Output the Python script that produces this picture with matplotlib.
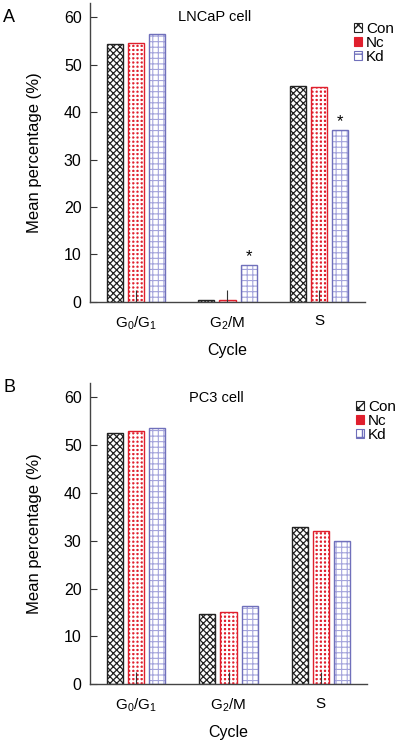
import matplotlib
matplotlib.use("Agg")
import matplotlib.pyplot as plt
import matplotlib.patches as mp
import numpy as np

plt.rcParams['font.family'] = ['Liberation Sans', 'DejaVu Sans']
plt.rcParams['mathtext.default'] = 'regular'

categories = [r'G$_0$/G$_1$', r'G$_2$/M', 'S']
groups = ['Con', 'Nc', 'Kd']
lncap_con = [54.4, 0.4, 45.5]
lncap_nc = [54.6, 0.3, 45.3]
lncap_kd = [56.5, 7.7, 36.3]
pc3_con = [52.5, 14.7, 32.8]
pc3_nc = [53.0, 15.1, 32.0]
pc3_kd = [53.6, 16.4, 30.0]
lncap_sig = [False, True, True]
pc3_sig = [False, False, False]

styles = {
    'Con': dict(face='white', hatchc='#222222', edge='#222222', hatch='xxxxx', hlw=0.9),
    'Nc': dict(face='#e01f2d', hatchc='white', edge='#e01f2d', hatch='++++', hlw=1.4),
    'Kd': dict(face='white', hatchc='#a4a4dc', edge='#7070bb', hatch='+++', hlw=0.8),
}

fig = plt.figure(figsize=(4, 7.4), dpi=100)
axA = fig.add_axes([0.225, 0.592, 0.6875, 0.404])
axB = fig.add_axes([0.225, 0.0753, 0.6925, 0.4071])

width = 0.175
offs = [-0.23, 0.0, 0.23]


def draw(ax, vals, sig, title, legpos):
    x = np.arange(len(categories))
    handles = []
    for g, v, o in zip(groups, vals, offs):
        st = styles[g]
        with plt.rc_context({'hatch.linewidth': st['hlw']}):
            bars = ax.bar(x + o, v, width, color=st['face'], edgecolor=st['hatchc'],
                          hatch=st['hatch'], linewidth=0)
            for b in bars:
                try:
                    b.set_hatch_linewidth(st['hlw'])
                except Exception:
                    pass
        ax.bar(x + o, v, width, fill=False, edgecolor=st['edge'], linewidth=1.0)
        with plt.rc_context({'hatch.linewidth': st['hlw']}):
            h = mp.Rectangle((0, 0), 1, 1, facecolor=st['face'], edgecolor=st['edge'],
                             hatch=st['hatch'][:2], linewidth=0.8)
        handles.append(h)
    kd = vals[2]
    for i, s in enumerate(sig):
        if s:
            ax.text(x[i] + offs[2], kd[i] + 0.2, '*', ha='center', va='bottom', fontsize=12)
    ax.set_xlim(-0.5, 2.5)
    ax.set_ylim(0, 63)
    ax.set_yticks(range(0, 61, 10))
    ax.set_xticks(x)
    ax.set_xticklabels(categories, fontsize=11)
    ax.tick_params(axis='y', direction='in', length=5, labelsize=11.5, color='#333333', pad=6)
    ax.tick_params(axis='x', direction='in', length=9, labelsize=11, color='#333333', pad=9)
    for sp in ['top', 'right']:
        ax.spines[sp].set_visible(False)
    for sp in ['left', 'bottom']:
        ax.spines[sp].set_color('#444444')
        ax.spines[sp].set_linewidth(1.0)
    ax.set_ylabel('Mean percentage (%)', fontsize=12, labelpad=16)
    ax.set_xlabel('Cycle', fontsize=11.5, labelpad=8)
    ax.text(0.455, 0.975, title, transform=ax.transAxes, ha='center', va='top', fontsize=10.5)
    ax.legend(handles, groups, loc='upper left', bbox_to_anchor=legpos,
              bbox_transform=fig.transFigure, frameon=False, fontsize=11,
              handlelength=0.5, handleheight=0.5, handletextpad=0.3,
              labelspacing=0.0, borderpad=0, borderaxespad=0)


draw(axA, [lncap_con, lncap_nc, lncap_kd], lncap_sig, 'LNCaP cell', (0.885, 0.97))
draw(axB, [pc3_con, pc3_nc, pc3_kd], pc3_sig, 'PC3 cell', (0.89, 0.4595))

fig.text(0.008, 0.988, 'A', fontsize=13, va='top')
fig.text(0.008, 0.488, 'B', fontsize=13, va='top')

fig.savefig('out.png', dpi=100)
